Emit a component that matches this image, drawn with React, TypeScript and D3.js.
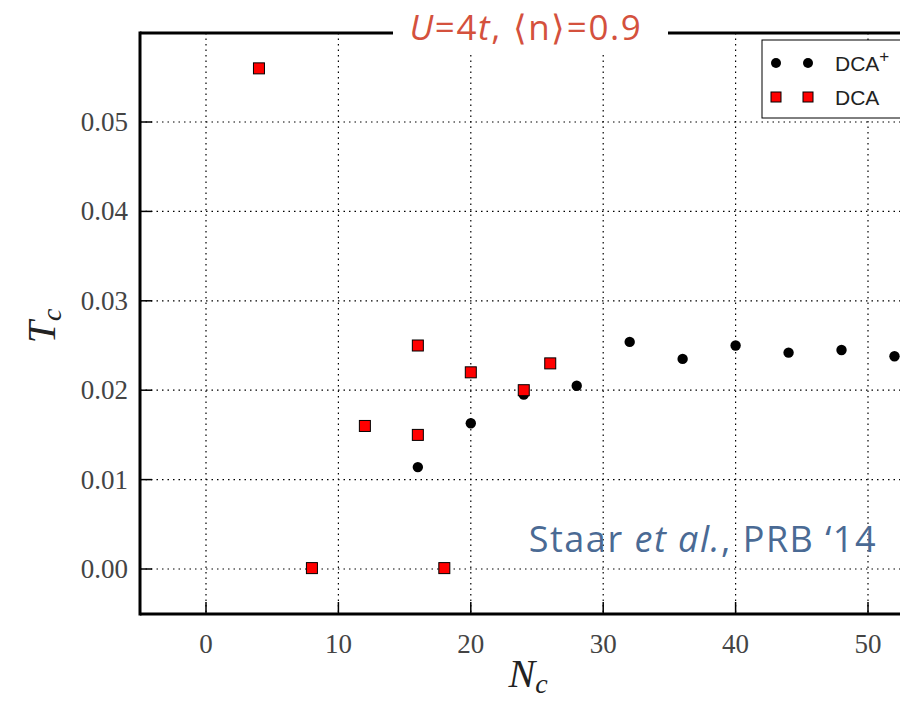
import React from "react";
import * as d3 from "d3";

const dcaPlusN = [16, 20, 24, 28, 32, 36, 40, 44, 48, 52];
const dcaPlusT = [0.0114, 0.0163, 0.0195, 0.0205, 0.0254, 0.0235, 0.0250, 0.0242, 0.0245, 0.0238];
const dcaN = [4, 8, 12, 16, 16, 18, 20, 24, 26];
const dcaT = [0.0560, 0.0001, 0.0160, 0.0250, 0.0150, 0.0001, 0.0220, 0.0200, 0.0230];
const xTicks = [0, 10, 20, 30, 40, 50];
const yTicks = [0, 0.01, 0.02, 0.03, 0.04, 0.05];

const W = 900;
const H = 704;
const L = 140, T = 33, B = 614;

export default function App() {
  const xr = d3.scaleLinear().domain([0, 50]).range([206, 868]);
  const y = d3.scaleLinear().domain([0, 0.05]).range([569, 122]);
  const X = (v: number) => xr(v);
  const right = 905;
  return (
    <svg width={W} height={H} style={{ position: "absolute", left: 0, top: 0, background: "#fff" }}>
      <defs>
        <clipPath id="pc"><rect x={L} y={T} width={right - L} height={B - T} /></clipPath>
      </defs>
      <g stroke="#000" strokeWidth={1.2} strokeDasharray="1.5,4">
        {xTicks.map((t) => (
          <line key={"gx" + t} x1={X(t)} x2={X(t)} y1={T} y2={B} />
        ))}
        {yTicks.map((t) => (
          <line key={"gy" + t} x1={L} x2={right} y1={y(t)} y2={y(t)} />
        ))}
      </g>
      <g stroke="#000" strokeWidth={1.5}>
        {xTicks.map((t) => (
          <line key={"tx" + t} x1={X(t)} x2={X(t)} y1={B} y2={B - 12} />
        ))}
        {yTicks.map((t) => (
          <line key={"ty" + t} x1={L} x2={L + 12} y1={y(t)} y2={y(t)} />
        ))}
      </g>
      <g stroke="#000" strokeWidth={3} fill="none">
        <line x1={L} x2={L} y1={T - 1.5} y2={B + 1.5} />
        <line x1={L} x2={right} y1={B} y2={B} />
        <line x1={L} x2={right} y1={T} y2={T} />
      </g>
      <g fontFamily="'Liberation Serif', 'DejaVu Serif', serif" fontSize={27} fill="#444">
        {xTicks.map((t) => (
          <text key={"lx" + t} x={X(t)} y={B + 39} textAnchor="middle">{t}</text>
        ))}
        {yTicks.map((t) => (
          <text key={"ly" + t} x={L - 12} y={y(t) + 9} textAnchor="end">{t.toFixed(2)}</text>
        ))}
      </g>
      <text x={528} y={687} textAnchor="middle" fontFamily="'Liberation Serif', serif" fontStyle="italic" fontSize={40} fill="#222">
        N<tspan fontSize={28} dy={6}>c</tspan>
      </text>
      <text transform="translate(55,326) rotate(-90)" textAnchor="middle" fontFamily="'Liberation Serif', serif" fontStyle="italic" fontSize={40} fill="#222">
        T<tspan fontSize={28} dy={6}>c</tspan>
      </text>
      <g clipPath="url(#pc)">
        {dcaPlusN.map((n, i) => (
          <circle key={"c" + i} cx={X(n)} cy={y(dcaPlusT[i])} r={5.2} fill="#000" />
        ))}
        {dcaN.map((n, i) => (
          <rect key={"s" + i} x={X(n) - 5.5} y={y(dcaT[i]) - 5.5} width={11} height={11} fill="#ff0000" stroke="#000" strokeWidth={1} />
        ))}
      </g>
      <rect x={393} y={T - 20} width={275} height={40} fill="#fff" />
      <text x={526} y={40} textAnchor="middle" fontFamily="'Open Sans', Lato, sans-serif" fontSize={35} letterSpacing={1.6} fill="#d4513d">
        <tspan fontStyle="italic">U</tspan>=4<tspan fontStyle="italic">t</tspan>, ⟨n⟩=0.9
      </text>
      <rect x={762} y={40} width={150} height={78} fill="#fff" stroke="#000" strokeWidth={1} />
      <circle cx={776} cy={63} r={5} fill="#000" />
      <circle cx={808} cy={63} r={5} fill="#000" />
      <text x={835} y={71} fontFamily="'Liberation Sans', Arial, sans-serif" fontSize={21} fill="#222">DCA<tspan fontSize={17} dy={-9}>+</tspan></text>
      <rect x={771} y={92} width={10} height={10} fill="#ff0000" stroke="#000" strokeWidth={1} />
      <rect x={803} y={92} width={10} height={10} fill="#ff0000" stroke="#000" strokeWidth={1} />
      <text x={835} y={105} fontFamily="'Liberation Sans', Arial, sans-serif" fontSize={21} fill="#222">DCA</text>
      <text x={877} y={552} textAnchor="end" fontFamily="'Open Sans', Lato, sans-serif" fontSize={36} letterSpacing={1.5} fill="#4a6a94">
        Staar <tspan fontStyle="italic">et al.</tspan>, PRB ‘14
      </text>
    </svg>
  );
}
